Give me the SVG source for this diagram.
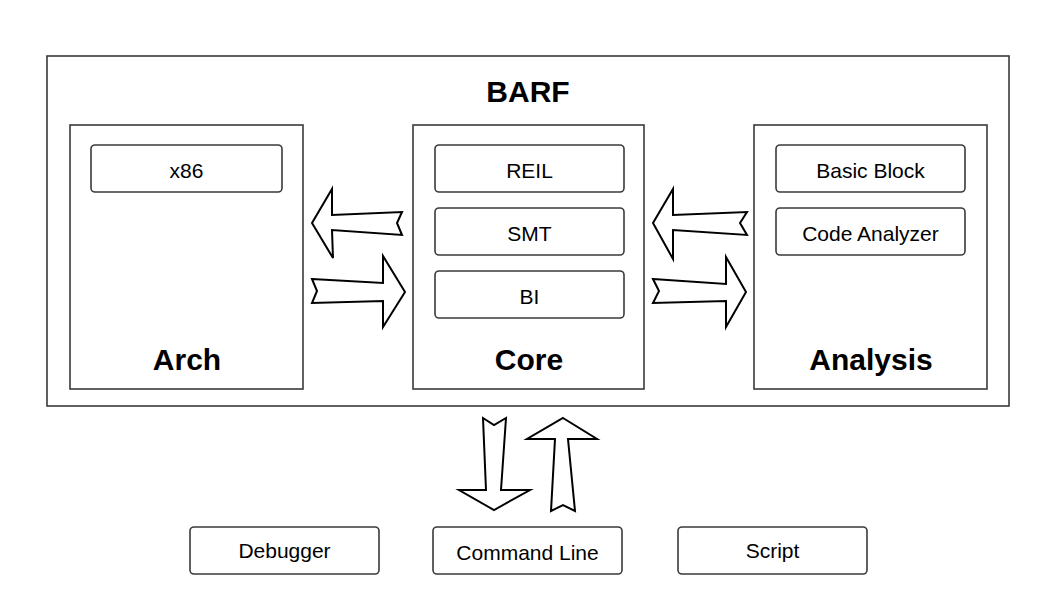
<svg xmlns="http://www.w3.org/2000/svg" width="1051" height="604" viewBox="0 0 1051 604">
<style>
.frame{fill:#fff;stroke:#3a3a3a;stroke-width:1.6}
.box{fill:#fff;stroke:#3a3a3a;stroke-width:1.6}
.arr{fill:#fff;stroke:#000;stroke-width:2;stroke-linejoin:miter}
.t{font-family:"Liberation Sans",Arial,sans-serif;font-size:21px;fill:#000;text-anchor:middle}
.b{font-family:"Liberation Sans",Arial,sans-serif;font-weight:bold;font-size:30px;fill:#000;text-anchor:middle}
</style>
<rect width="1051" height="604" fill="#fff"/>
<g id="barf">
<rect class="frame" x="47" y="56" width="962" height="350"/>
<text class="b" x="528" y="102" font-size="34">BARF</text>
</g>
<g id="arch">
<rect class="frame" x="70" y="125" width="233" height="264"/>
<text class="b" x="187" y="370">Arch</text>
</g>
<g id="x86">
<rect class="box" x="91" y="145" width="191" height="47" rx="4"/>
<text class="t" x="186.5" y="178">x86</text>
</g>
<g id="core">
<rect class="frame" x="413" y="125" width="231" height="264"/>
<text class="b" x="529" y="370">Core</text>
</g>
<g id="reil">
<rect class="box" x="435" y="145" width="189" height="47" rx="4"/>
<text class="t" x="529.5" y="178">REIL</text>
</g>
<g id="smt">
<rect class="box" x="435" y="208" width="189" height="47" rx="4"/>
<text class="t" x="529.5" y="241">SMT</text>
</g>
<g id="bi">
<rect class="box" x="435" y="271" width="189" height="47" rx="4"/>
<text class="t" x="529.5" y="304">BI</text>
</g>
<g id="analysis">
<rect class="frame" x="754" y="125" width="233" height="264"/>
<text class="b" x="871" y="370">Analysis</text>
</g>
<g id="basicblock">
<rect class="box" x="776" y="145" width="189" height="47" rx="4"/>
<text class="t" x="870.5" y="178">Basic Block</text>
</g>
<g id="codeanalyzer">
<rect class="box" x="776" y="208" width="189" height="47" rx="4"/>
<text class="t" x="870.5" y="241">Code Analyzer</text>
</g>
<g id="debugger">
<rect class="box" x="190" y="527" width="189" height="47" rx="4"/>
<text class="t" x="284.5" y="558">Debugger</text>
</g>
<g id="commandline">
<rect class="box" x="433" y="527" width="189" height="47" rx="4"/>
<text class="t" x="527.5" y="560">Command Line</text>
</g>
<g id="script">
<rect class="box" x="678" y="527" width="189" height="47" rx="4"/>
<text class="t" x="772.5" y="558">Script</text>
</g>
<g id="connectors">
<polygon class="arr" points="312,223 332,189 332,215 402,212 397,223 402,235 332,230 333,258"/>
<polygon class="arr" points="312,279 383,283 383,256 405,292 383,327 383,301 312,303 317,291"/>
<polygon class="arr" points="653,223 673,189 673,215 747,212 740,223 747,235 673,230 673,259"/>
<polygon class="arr" points="653,279 726,284 726,257 746,292 726,327 726,301 653,303 659,291"/>
<polygon class="arr" points="483,418 494,425 506,418 501,490 530,490 494,510 459,490 486,490"/>
<polygon class="arr" points="563,418 597,439 568,439 575,511 563,505 551,511 555,439 527,439"/>
</g>
</svg>
